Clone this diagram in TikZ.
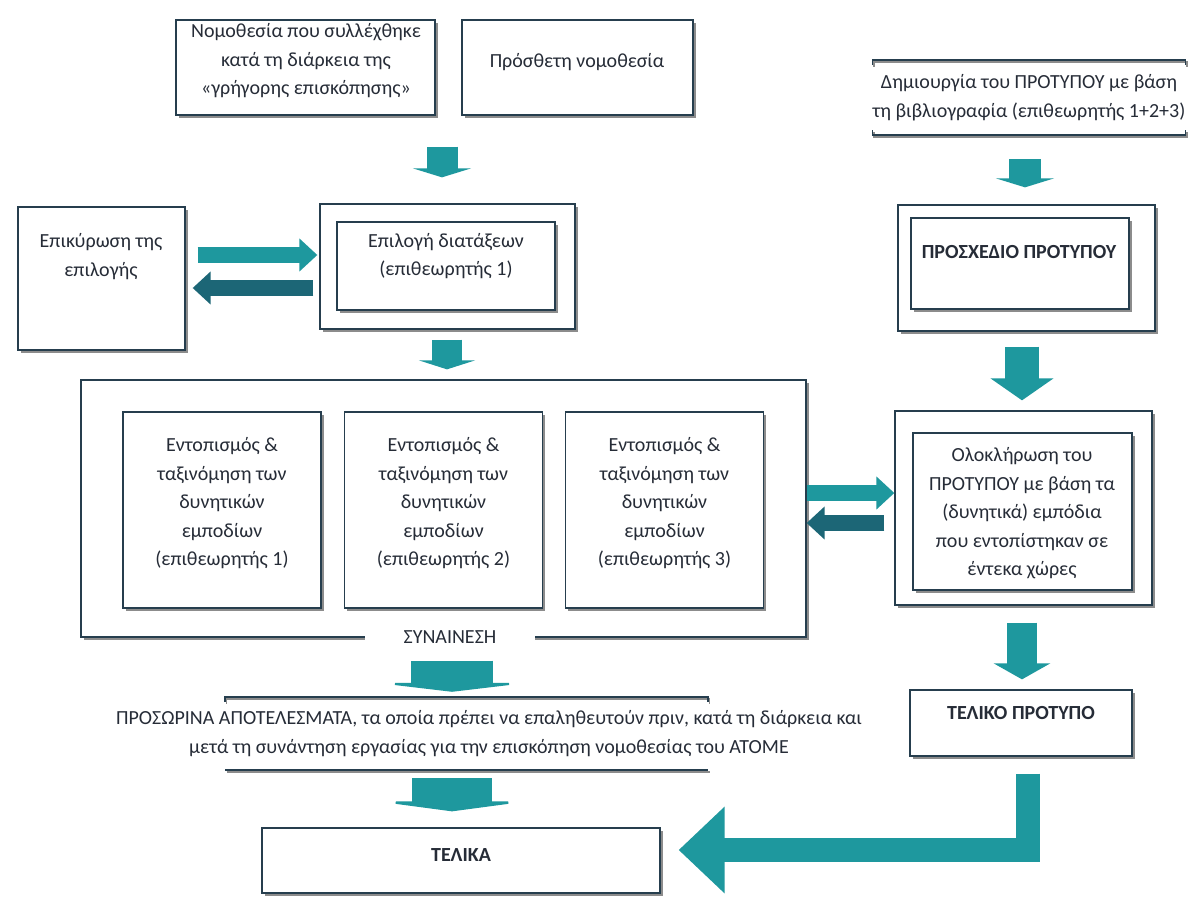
\documentclass[tikz,border=0pt]{standalone}
\usepackage{fontspec}
\setmainfont{Carlito}
\usetikzlibrary{arrows.meta,positioning,shadows}
\definecolor{boxline}{RGB}{38,62,78}
\definecolor{inktext}{RGB}{38,44,55}
\definecolor{flowteal}{RGB}{30,152,158}
\definecolor{flowdark}{RGB}{28,102,118}

\begin{document}
\begin{tikzpicture}[x=1pt,y=-1pt,
  box/.style={draw=boxline,line width=1.3pt,fill=white,inner sep=0pt,
              drop shadow={shadow xshift=2.5pt,shadow yshift=-2.5pt,fill=black,opacity=.45}},
  rule/.style={draw=boxline,line width=1.6pt,
               preaction={draw=black!45,line width=1.6pt,transform canvas={xshift=1.5pt,yshift=-2pt}}},
  lbl/.style={text=inktext,align=center,inner sep=0pt,font=\fontsize{20}{28.5}\selectfont},
  caps/.style={lbl,font=\fontsize{20}{28.5}\selectfont\bfseries},
  flow/.style={draw=flowteal,line width=#1},
  backflow/.style={draw=flowdark,line width=#1}]

\path[use as bounding box,fill=white] (0,0) rectangle (1192,897);

% left column
\node[box,minimum width=259pt,minimum height=95pt] (law) at (305.5,67.5) {};
\node[lbl] (law-t) at (306,61) {Νομοθεσία που συλλέχθηκε\\κατά τη διάρκεια της\\«γρήγορης επισκόπησης»};
\node[box,minimum width=231pt,minimum height=95pt] (extra) at (577.5,67.5) {};
\node[lbl] (extra-t) at (577,62) {Πρόσθετη νομοθεσία};

\node[box,minimum width=167pt,minimum height=143pt] (valid) at (101.5,278.5) {};
\node[lbl] (valid-t) at (101,256.5) {Επικύρωση της\\επιλογής};
\node[box,minimum width=255pt,minimum height=125pt] (selO) at (447.5,266.5) {};
\node[box,minimum width=218pt,minimum height=88pt] (selI) at (446,266) {};
\node[lbl] (sel-t) at (446,256) {Επιλογή διατάξεων\\(επιθεωρητής 1)};

\node[box,minimum width=725pt,minimum height=257pt] (bigbox) at (443.5,508.5) {};
\foreach \n/\x in {1/222,2/443.5,3/664.5}{
  \node[box,minimum width=198pt,minimum height=196pt] (loc\n) at (\x,510) {};
  \node[lbl] (loc\n-t) at (\x,503.5) {Εντοπισμός \&\\ταξινόμηση των\\δυνητικών\\εμποδίων\\(επιθεωρητής \n)};
}
\node[lbl,fill=white,minimum width=170pt,minimum height=18pt] (synth) at (450,637) {ΣΥΝΑΙΝΕΣΗ};

\node[lbl,minimum height=73pt] (interim) at (489,733.5)
  {ΠΡΟΣΩΡΙΝΑ ΑΠΟΤΕΛΕΣΜΑΤΑ, τα οποία πρέπει να επαληθευτούν πριν, κατά τη διάρκεια και\\
   μετά τη συνάντηση εργασίας για την επισκόπηση νομοθεσίας του ΑΤΟΜΕ};
\draw[rule] ([yshift=-5pt]interim.north -| 225,0) -- (interim.north -| 225,0)
  -- (interim.north -| 708,0) -- ([yshift=-5pt]interim.north -| 708,0);
\draw[rule] (interim.south -| 225,0) -- (interim.south -| 708,0);

\node[box,minimum width=398pt,minimum height=65pt] (final) at (461,860.5) {};
\node[caps] (final-t) at (461,855) {ΤΕΛΙΚΑ};

% right column
\node[lbl,minimum width=298pt,minimum height=75pt] (create) at (1029,97.5)
  {Δημιουργία του ΠΡΟΤΥΠΟΥ με βάση\\τη βιβλιογραφία (επιθεωρητής 1+2+3)};
\draw[rule] ([yshift=-5pt]create.north west) -- (create.north west)
  -- (create.north east) -- ([yshift=-5pt]create.north east);
\draw[rule] ([yshift=5pt]create.south west) -- (create.south west)
  -- (create.south east) -- ([yshift=5pt]create.south east);

\node[box,minimum width=257pt,minimum height=126pt] (draftO) at (1026.5,268) {};
\node[box,minimum width=218pt,minimum height=91pt] (draftI) at (1020,263.5) {};
\node[caps] (draft-t) at (1019,252) {ΠΡΟΣΧΕΔΙΟ ΠΡΟΤΥΠΟΥ};

\node[box,minimum width=257pt,minimum height=194pt] (complO) at (1023.5,508) {};
\node[box,minimum width=219pt,minimum height=157pt] (complI) at (1022.5,511.5) {};
\node[lbl] (compl-t) at (1022,513.5) {Ολοκλήρωση του\\ΠΡΟΤΥΠΟΥ με βάση τα\\(δυνητικά) εμπόδια\\που εντοπίστηκαν σε\\έντεκα χώρες};

\node[box,minimum width=222pt,minimum height=66pt] (tproto) at (1021,723) {};
\node[caps] (tproto-t) at (1021,713) {ΤΕΛΙΚΟ ΠΡΟΤΥΠΟ};

% block arrows
\draw[flow=31pt,shorten <=31pt,shorten >=26pt,-{Triangle[width=58pt,length=9pt]}]
  (law.south -| 442,0) -- (selO.north -| 442,0);
\draw[flow=30pt,shorten <=10pt,shorten >=10pt,-{Triangle[width=56pt,length=9pt]}]
  (selO.south -| 447,0) -- (bigbox.north -| 447,0);
\draw[flow=16pt,shorten <=12pt,shorten >=2pt,-{Triangle[width=32pt,length=18pt]}]
  (valid.east |- 0,255) -- (selO.west |- 0,255);
\draw[backflow=16pt,shorten <=6pt,shorten >=7pt,-{Triangle[width=32pt,length=18pt]}]
  (selO.west |- 0,288) -- (valid.east |- 0,288);
\draw[flow=82pt,shorten <=23pt,shorten >=5pt,-{Triangle[width=152pt,length=9pt]}]
  (bigbox.south -| 452,0) -- (interim.north -| 452,0);
\draw[flow=80pt,shorten <=8pt,shorten >=16pt,-{Triangle[width=150pt,length=10pt]}]
  (interim.south -| 452,0) -- (final.north -| 452,0);

\draw[flow=32pt,shorten <=24pt,shorten >=17pt,-{Triangle[width=58pt,length=9pt]}]
  (create.south -| 1025,0) -- (draftO.north -| 1025,0);
\draw[flow=34pt,shorten <=15pt,shorten >=10pt,-{Triangle[width=62pt,length=22pt]}]
  (draftO.south -| 1022,0) -- (complO.north -| 1022,0);
\draw[flow=16pt,-{Triangle[width=32pt,length=18pt]}]
  (bigbox.east |- 0,493) -- (complO.west |- 0,493);
\draw[backflow=16pt,shorten <=10pt,-{Triangle[width=32pt,length=18pt]}]
  (complO.west |- 0,523) -- (bigbox.east |- 0,523);
\draw[flow=30pt,shorten <=17pt,shorten >=10pt,-{Triangle[width=56pt,length=16pt]}]
  (complO.south -| 1022,0) -- (tproto.north -| 1022,0);
\draw[flow=24pt,line join=miter,shorten <=17pt,shorten >=18pt,-{Triangle[width=84pt,length=46pt]}]
  (tproto.south -| 1028,0) |- (final.east |- 0,850);
\end{tikzpicture}
\end{document}
